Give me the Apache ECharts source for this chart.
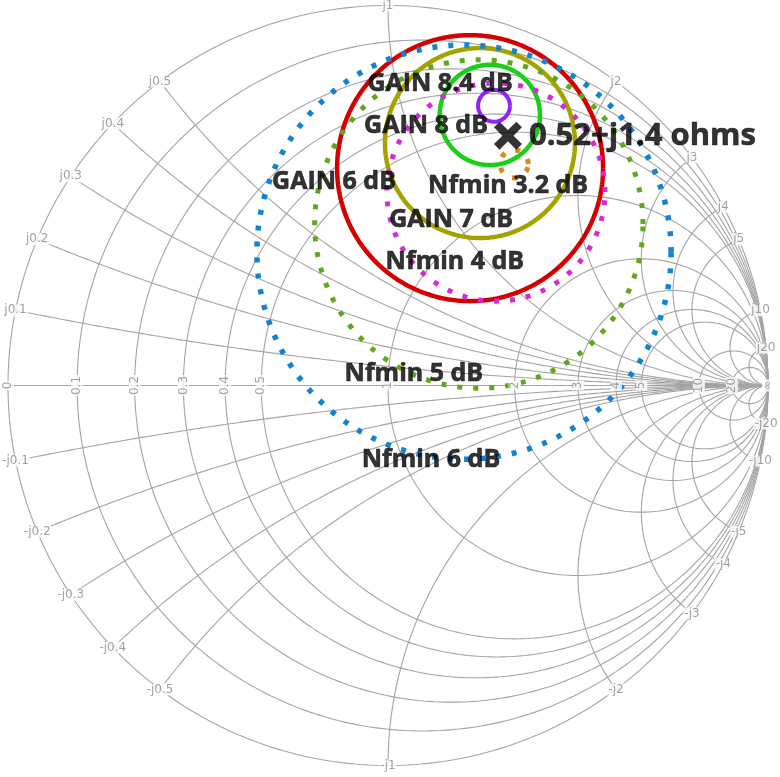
<!DOCTYPE html>
<html><head><meta charset="utf-8">
<script src="https://cdn.jsdelivr.net/npm/echarts@6/dist/echarts.min.js"></script>
<style>html,body{margin:0;padding:0;background:#fff}#c{width:780px;height:777px}</style>
</head><body><div id="c"></div>
<script>
// ---- Smith chart grid values ----
const realTicks = [0.1, 0.2, 0.3, 0.4, 0.5, 1, 2, 3, 4, 5, 10, 20];
const realTickLabels = ['0.1', '0.2', '0.3', '0.4', '0.5', '1', '2', '3', '4', '5', '10', '20'];
const imagTicks = [0.1, 0.2, 0.3, 0.4, 0.5, 1, 2, 3, 4, 5, 10, 20];
const imagTickLabels = ['j0.1', 'j0.2', 'j0.3', 'j0.4', 'j0.5', 'j1', 'j2', 'j3', 'j4', 'j5', 'j10', 'j20'];

// ---- Gain / noise circles (reflection-coefficient plane: centre re, centre im, radius) ----
const circleNames = ['GAIN 6 dB', 'GAIN 7 dB', 'GAIN 8 dB', 'GAIN 8.4 dB', 'Nfmin 6 dB', 'Nfmin 5 dB', 'Nfmin 4 dB', 'Nfmin 3.2 dB'];
const circleCenterRe = [0.216, 0.242, 0.268, 0.279, 0.200, 0.239, 0.284, 0.332];
const circleCenterIm = [0.572, 0.638, 0.712, 0.736, 0.351, 0.425, 0.509, 0.583];
const circleRadius = [0.350, 0.250, 0.132, 0.042, 0.545, 0.432, 0.287, 0.037];

// ---- Marked impedance (normalised) ----
const markerRe = [0.52];
const markerIm = [1.46];
const markerLabels = ['0.52+j1.4 ohms'];

// ---- styles (kept separate) ----
const circleStyles = [
  {color: '#d40000', width: 4.5, type: 'solid'},
  {color: '#a3a300', width: 4.5, type: 'solid'},
  {color: '#19cf19', width: 4.5, type: 'solid'},
  {color: '#8f22ff', width: 4, type: 'solid'},
  {color: '#1283d2', width: 5.5, type: [5, 11]},
  {color: '#5fa81c', width: 5, type: [5, 11]},
  {color: '#d52ad5', width: 5, type: [5, 11]},
  {color: '#d98a1c', width: 5, type: [5, 11]}
];
// annotation anchor points (reflection plane)
const annotationPos = {
  'GAIN 8.4 dB': [0.137, 0.794],
  'GAIN 8 dB': [0.100, 0.682],
  'GAIN 6 dB': [-0.142, 0.536],
  'Nfmin 3.2 dB': [0.316, 0.525],
  'GAIN 7 dB': [0.166, 0.435],
  'Nfmin 4 dB': [0.176, 0.325],
  'Nfmin 5 dB': [0.068, 0.030],
  'Nfmin 6 dB': [0.113, -0.197]
};

function circlePts(cx, cy, r, n) {
  const pts = [];
  for (let i = 0; i <= n; i++) {
    const t = 2 * Math.PI * i / n;
    pts.push([cx + r * Math.cos(t), cy + r * Math.sin(t)]);
  }
  return pts;
}
function gamma(re, im) {
  const dr = re + 1, di = im;
  const nr = re - 1, ni = im;
  const d = dr * dr + di * di;
  return [(nr * dr + ni * di) / d, (ni * dr - nr * di) / d];
}
function imagArc(x, n) {
  const ax = Math.abs(x);
  const g0 = gamma(0, ax);
  const cx = 1, cy = 1 / ax, rr = 1 / ax;
  let t0 = Math.atan2(g0[1] - cy, g0[0] - cx);
  if (t0 < 0) t0 += 2 * Math.PI;
  const t1 = 1.5 * Math.PI;
  const pts = [];
  for (let i = 0; i <= n; i++) {
    const t = t0 + (t1 - t0) * i / n;
    const p = [cx + rr * Math.cos(t), cy + rr * Math.sin(t)];
    pts.push([p[0], x < 0 ? -p[1] : p[1]]);
  }
  return pts;
}

const GRID = '#a4a4a4';
const series = [];
function gridLine(data) {
  series.push({type: 'line', data, showSymbol: false, silent: true, smooth: false,
    lineStyle: {color: GRID, width: 1.1}, z: 1, animation: false});
}
// unit circle
gridLine(circlePts(0, 0, 1, 360));
// real axis
gridLine([[-1, 0], [1, 0]]);
// resistance circles
realTicks.forEach(r => gridLine(circlePts(r / (1 + r), 0, 1 / (1 + r), 360)));
// reactance arcs
imagTicks.forEach(x => { gridLine(imagArc(x, 200)); gridLine(imagArc(-x, 200)); });

// data circles
circleNames.forEach((nm, i) => {
  const s = circleStyles[i];
  series.push({type: 'line', name: nm, data: circlePts(circleCenterRe[i], circleCenterIm[i], circleRadius[i], 400),
    showSymbol: false, silent: true, animation: false, z: i < 4 ? 3 : 4,
    lineStyle: {color: s.color, width: s.width, type: s.type, cap: 'butt'}});
});

// tick labels
const tickLabelStyle = {show: true, color: '#8a8a8a', fontSize: 12, fontFamily: 'DejaVu Sans',
  backgroundColor: '#fff', padding: [0, 1], position: 'inside'};
const realLabelData = [{value: [-1, 0], name: '0'}].concat(
  realTicks.map((r, i) => ({value: [(r - 1) / (r + 1), 0], name: realTickLabels[i]})),
  [{value: [1, 0], name: '∞'}]);
series.push({type: 'scatter', data: realLabelData, symbolSize: 1, itemStyle: {color: 'rgba(0,0,0,0)'},
  silent: true, animation: false, z: 5,
  label: Object.assign({}, tickLabelStyle, {rotate: 90, formatter: p => p.name})});
const imagLabelData = [];
imagTicks.forEach((x, i) => {
  imagLabelData.push({value: gamma(0, x), name: imagTickLabels[i]});
  imagLabelData.push({value: gamma(0, -x), name: '-' + imagTickLabels[i]});
});
series.push({type: 'scatter', data: imagLabelData, symbolSize: 1, itemStyle: {color: 'rgba(0,0,0,0)'},
  silent: true, animation: false, z: 5,
  label: Object.assign({}, tickLabelStyle, {formatter: p => p.name})});

// annotations
const annRich = {a: {color: '#000', fontSize: 25, fontWeight: 'bold', fontFamily: 'Open Sans',
  textBorderColor: '#000', textBorderWidth: 0.6}};
series.push({type: 'scatter', symbolSize: 1, itemStyle: {color: 'rgba(0,0,0,0)'}, silent: true, animation: false, z: 10,
  data: circleNames.map(nm => ({value: annotationPos[nm], name: nm})),
  label: {show: true, position: 'inside', formatter: p => '{a|' + p.name + '}', rich: annRich,
    color: '#000', fontSize: 25, fontWeight: 'bold', fontFamily: 'Open Sans'}});

// marker
const XPATH = 'path://M0,2 L2,0 L5,3 L8,0 L10,2 L7,5 L10,8 L8,10 L5,7 L2,10 L0,8 L3,5 Z';
series.push({type: 'scatter', symbol: XPATH, symbolSize: 28, itemStyle: {color: '#000'}, silent: true, animation: false, z: 11,
  data: markerRe.map((re, i) => ({value: gamma(re, markerIm[i]), name: markerLabels[i]})),
  label: {show: true, position: 'right', distance: 7, formatter: p => '{m|' + p.name + '}',
    rich: {m: {color: '#000', fontSize: 31, fontWeight: 'bold', fontFamily: 'Open Sans',
      textBorderColor: '#000', textBorderWidth: 0.6}},
    color: '#000', fontSize: 31, fontWeight: 'bold', fontFamily: 'Open Sans'}});

const chart = echarts.init(document.getElementById('c'), null, {renderer: 'canvas'});
chart.setOption({
  animation: false,
  backgroundColor: '#fff',
  grid: {left: 8, top: 5.5, width: 760, height: 760},
  xAxis: {type: 'value', min: -1, max: 1, show: false},
  yAxis: {type: 'value', min: -1, max: 1, show: false},
  series
});
</script></body></html>
